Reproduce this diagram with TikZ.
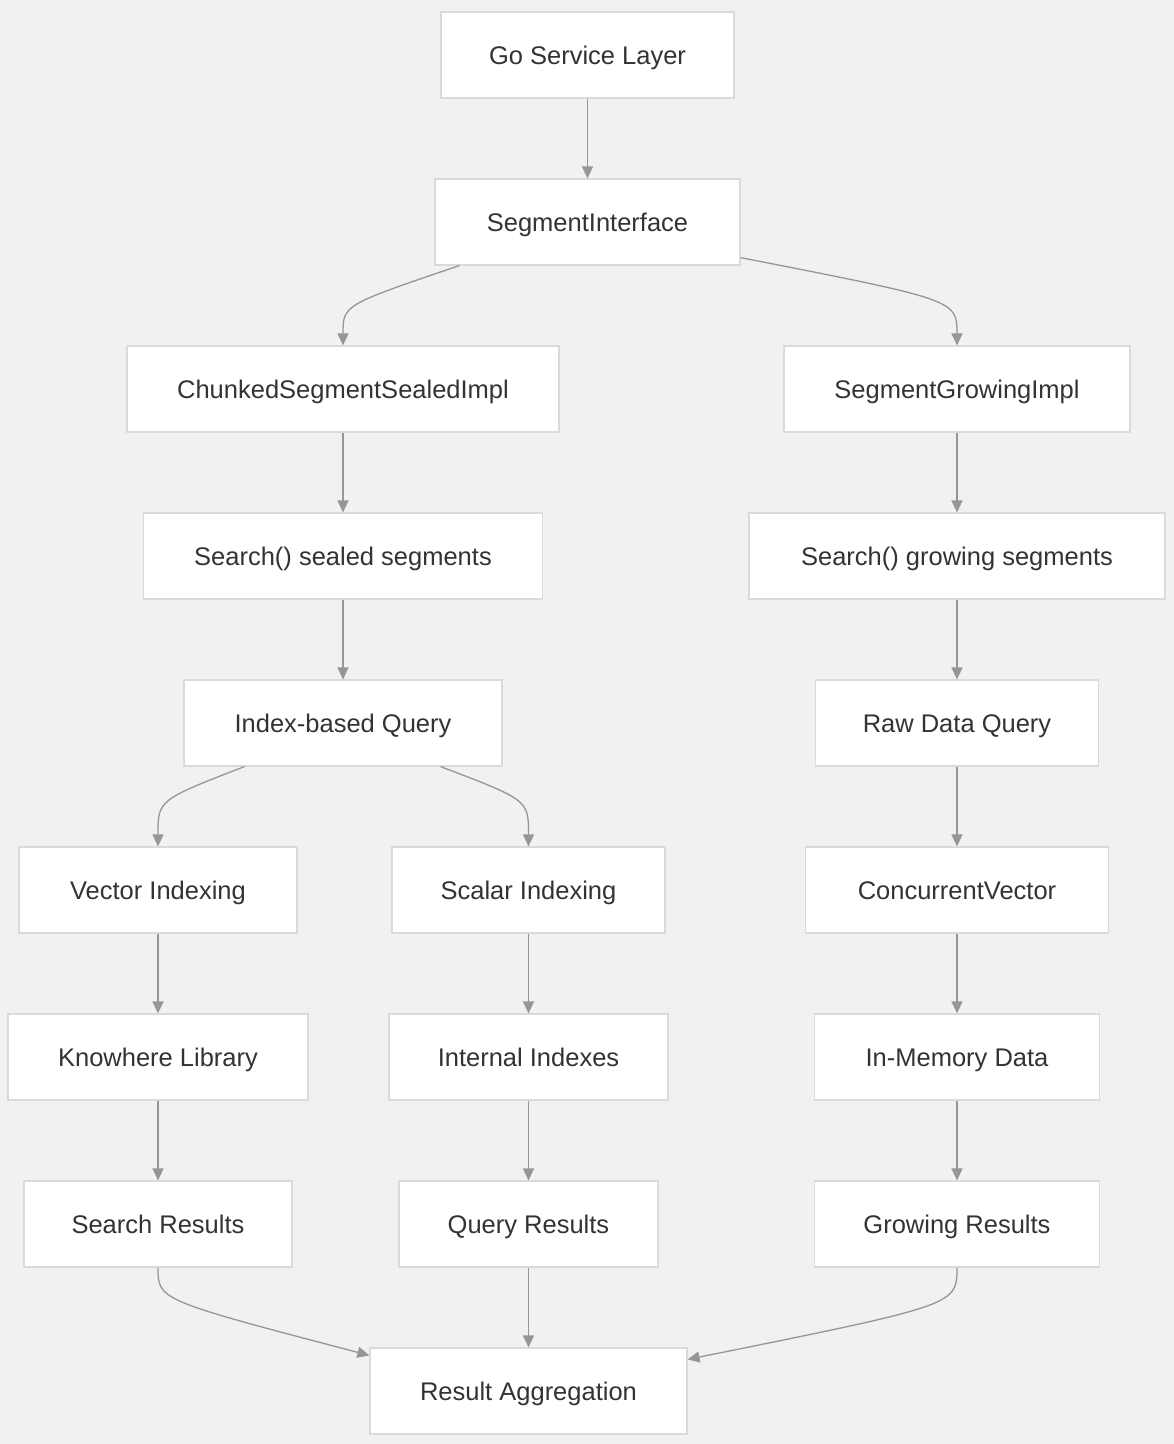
\documentclass[tikz,border=0pt]{standalone}
\usepackage{fontspec}
\setmainfont{Liberation Sans}
\usetikzlibrary{arrows.meta,calc}
\definecolor{bg}{RGB}{242,241,240}
\definecolor{bord}{RGB}{218,218,218}
\definecolor{edgec}{RGB}{150,150,150}
\definecolor{txt}{RGB}{51,51,51}
\begin{document}
\begin{tikzpicture}[x=1pt,y=-1pt,
  box/.style={draw=bord,line width=1.2pt,fill=white,minimum height=86pt,inner sep=0pt,
    text height=18.5pt,text depth=0pt,
    font=\fontsize{25.5}{30}\selectfont,text=txt},
  edge/.style={draw=edgec,line width=1.3pt,-{Triangle[length=12pt,width=11pt]}}]
\fill[bg] (0,0) rectangle (1174,1444);
\useasboundingbox (0,0) rectangle (1174,1444);
\node[box,minimum width=293pt] (gs) at (587.5,55) {Go Service Layer};
\node[box,minimum width=305pt] (si) at (587.5,222) {SegmentInterface};
\node[box,minimum width=432pt] (ch) at (343,389) {ChunkedSegmentSealedImpl};
\node[box,minimum width=346pt] (sg) at (957,389) {SegmentGrowingImpl};
\node[box,minimum width=399pt] (ss) at (343,556) {Search() sealed segments};
\node[box,minimum width=416pt] (sgs) at (957,556) {Search() growing segments};
\node[box,minimum width=318pt] (iq) at (343,723) {Index-based Query};
\node[box,minimum width=283pt] (rq) at (957,723) {Raw Data Query};
\node[box,minimum width=278pt] (vi) at (158,890) {Vector Indexing};
\node[box,minimum width=273pt] (sci) at (528.5,890) {Scalar Indexing};
\node[box,minimum width=303pt] (cv) at (957,890) {ConcurrentVector};
\node[box,minimum width=300pt] (kl) at (158,1057) {Knowhere Library};
\node[box,minimum width=279pt] (ii) at (528.5,1057) {Internal Indexes};
\node[box,minimum width=285pt] (im) at (957,1057) {In-Memory Data};
\node[box,minimum width=268pt] (sr) at (158,1224) {Search Results};
\node[box,minimum width=259pt] (qr) at (528.5,1224) {Query Results};
\node[box,minimum width=285pt] (gr) at (957,1224) {Growing Results};
\node[box,minimum width=317pt] (ra) at (528.5,1391) {Result Aggregation};

\draw[edge] (gs) -- (si);
\draw[edge] ([xshift=25pt]si.south west) .. controls (343,305) .. (ch.north);
\draw[edge] ([yshift=8pt]si.south east) .. controls (957,300) .. (sg.north);
\draw[edge] (ch) -- (ss);
\draw[edge] (ss) -- (iq);
\draw[edge] (sg) -- (sgs);
\draw[edge] (sgs) -- (rq);
\draw[edge] ([xshift=61pt]iq.south west) .. controls (158,800) .. (vi.north);
\draw[edge] ([xshift=-62pt]iq.south east) .. controls (528.5,800) .. (sci.north);
\draw[edge] (rq) -- (cv);
\draw[edge] (vi) -- (kl);
\draw[edge] (sci) -- (ii);
\draw[edge] (cv) -- (im);
\draw[edge] (kl) -- (sr);
\draw[edge] (ii) -- (qr);
\draw[edge] (im) -- (gr);
\draw[edge] (sr.south) .. controls (158,1300) .. ([yshift=-8pt]ra.north west);
\draw[edge] (qr) -- (ra);
\draw[edge] (gr.south) .. controls (957,1305) .. ([yshift=-12pt]ra.north east);
\end{tikzpicture}
\end{document}
